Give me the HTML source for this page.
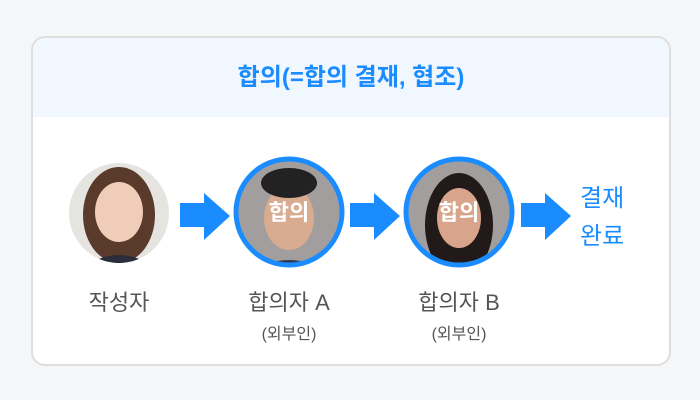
<!DOCTYPE html>
<html><head><meta charset="utf-8"><style>
body{margin:0;width:700px;height:400px;background:#f5f6f8;font-family:"Liberation Sans","Noto Sans CJK KR",sans-serif;position:relative;overflow:hidden}
.card{position:absolute;left:31px;top:36px;width:636px;height:326px;border:2px solid #dedede;border-radius:14px;background:#fff;overflow:hidden}
.hd{position:absolute;left:0;top:0;width:100%;height:79px;background:#f1f7ff;text-align:center;line-height:79px;color:#1a8cff;font-size:24px;font-weight:bold}
.t{position:absolute;color:#555;font-size:22px;text-align:center;width:160px}
.s{position:absolute;color:#555;font-size:16px;text-align:center;width:160px}
.b{position:absolute;color:#1a8cff;font-size:24px;line-height:38px}
</style></head><body>
<div class="card"><div class="hd">합의(=합의 결재, 협조)</div></div>
<svg width="700" height="400" style="position:absolute;left:0;top:0">
<defs>
<clipPath id="c1"><circle cx="119" cy="213" r="50"/></clipPath>
<clipPath id="c2"><circle cx="289" cy="212" r="52"/></clipPath>
<clipPath id="c3"><circle cx="459" cy="212" r="52"/></clipPath>
</defs>
<g clip-path="url(#c1)">
<rect x="60" y="150" width="120" height="130" fill="#e6e4e1"/>
<ellipse cx="119" cy="215" rx="36" ry="48" fill="#5a3a2a"/>
<ellipse cx="119" cy="212" rx="24" ry="30" fill="#efcdb8"/>
<path d="M80 270 Q119 240 158 270 Z" fill="#2a2d3a"/>
</g>
<g clip-path="url(#c2)">
<rect x="230" y="150" width="120" height="130" fill="#a29e9d"/>
<ellipse cx="289" cy="218" rx="25" ry="32" fill="#d9ab90"/>
<ellipse cx="289" cy="183" rx="28" ry="15" fill="#222"/>
<path d="M245 275 Q289 245 333 275 Z" fill="#2b3a55"/>
</g>
<circle cx="289" cy="212" r="53" fill="none" stroke="#1a8cff" stroke-width="5"/>
<g clip-path="url(#c3)">
<rect x="400" y="150" width="120" height="130" fill="#a29e9d"/>
<ellipse cx="459" cy="225" rx="34" ry="52" fill="#221a18"/>
<ellipse cx="459" cy="218" rx="22" ry="30" fill="#d8a48c"/>
</g>
<circle cx="459" cy="212" r="53" fill="none" stroke="#1a8cff" stroke-width="5"/>
<g fill="#1a8cff">
<polygon points="180,203 204,203 204,193 230,216 204,240 204,227 180,227"/>
<polygon points="350,203 374,203 374,193 400,216 374,240 374,227 350,227"/>
<polygon points="521,203 545,203 545,193 571,216 545,240 545,227 521,227"/>
</g>
<g font-family="Liberation Sans,Noto Sans CJK KR,sans-serif" font-size="22" font-weight="bold" fill="#fff" text-anchor="middle">
<text x="289" y="220">합의</text><text x="459" y="220">합의</text>
</g>
</svg>
<div class="b" style="left:580px;top:180px">결재<br>완료</div>
<div class="t" style="left:39px;top:285px">작성자</div>
<div class="t" style="left:209px;top:285px">합의자 A</div>
<div class="t" style="left:379px;top:285px">합의자 B</div>
<div class="s" style="left:209px;top:320px">(외부인)</div>
<div class="s" style="left:379px;top:320px">(외부인)</div>
</body></html>
